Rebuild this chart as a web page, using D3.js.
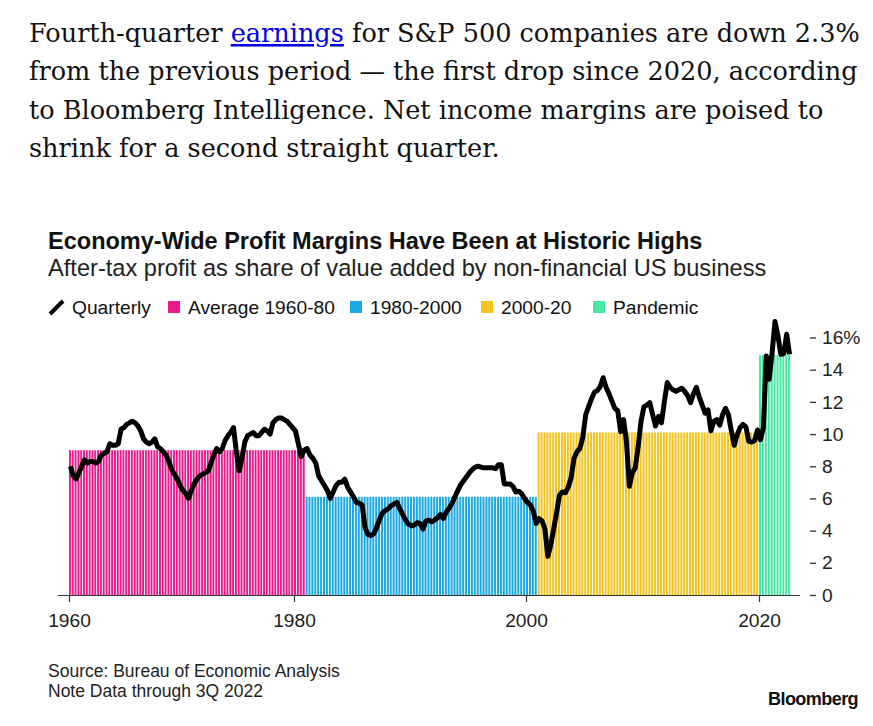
<!DOCTYPE html>
<html>
<head>
<meta charset="utf-8">
<script src="https://cdn.jsdelivr.net/npm/d3@7"></script>
<style>
  html, body { margin: 0; padding: 0; background: #fff; }
  svg { display: block; }
</style>
</head>
<body>
<svg id="chart" width="873" height="726"></svg>
<script>
// ---------------- DATA ----------------
const startYear = 1960;          // first quarter: 1960 Q1
const quarterly = [
  8.0, 7.4, 7.2, 7.6, 8.0, 8.4, 8.2, 8.3, 8.3, 8.2,
  8.3, 8.7, 8.8, 8.9, 9.4, 9.3, 9.3, 9.4, 10.3, 10.4,
  10.6, 10.7, 10.8, 10.7, 10.5, 10.2, 9.7, 9.5, 9.4, 9.5,
  9.7, 9.2, 9.1, 8.9, 8.7, 8.3, 7.8, 7.5, 7.2, 6.8,
  6.5, 6.3, 6.0, 6.5, 6.9, 7.2, 7.4, 7.5, 7.6, 7.7,
  8.2, 8.7, 9.1, 8.9, 9.1, 9.6, 9.9, 10.1, 10.4, 8.9,
  7.7, 8.5, 9.5, 9.9, 10.0, 10.1, 9.9, 9.9, 10.1, 10.3,
  10.2, 10.0, 10.7, 10.9, 11.0, 11.0, 10.9, 10.8, 10.6, 10.4,
  10.2, 9.4, 8.6, 9.0, 9.1, 8.7, 8.5, 8.2, 7.4, 7.1,
  6.8, 6.5, 6.0, 6.4, 6.8, 7.0, 7.0, 7.2, 6.7, 6.4,
  6.1, 5.75, 5.7, 5.6, 4.2, 3.75, 3.7, 3.8, 4.2, 4.7,
  5.1, 5.25, 5.35, 5.55, 5.65, 5.75, 5.35, 5.0, 4.65, 4.4,
  4.3, 4.35, 4.5, 4.45, 4.1, 4.6, 4.65, 4.55, 4.65, 4.8,
  5.0, 4.75, 5.15, 5.4, 5.7, 6.1, 6.5, 6.85, 7.1, 7.35,
  7.6, 7.8, 7.95, 8.0, 7.95, 7.9, 7.9, 7.9, 7.9, 7.85,
  8.1, 8.1, 6.9, 6.9, 6.9, 6.75, 6.4, 6.45, 6.3, 6.0,
  5.75, 5.6, 5.2, 4.45, 4.75, 4.6, 4.1, 2.4, 3.1, 4.1,
  5.1, 6.2, 6.4, 6.35, 6.7, 7.3, 8.5, 8.9, 9.1, 9.8,
  11.2, 11.7, 12.2, 12.6, 12.7, 12.95, 13.5, 12.9, 12.5, 12.05,
  11.6, 11.45, 10.15, 10.9, 9.5, 6.75, 7.6, 7.9, 9.2, 10.8,
  11.7, 11.8, 11.95, 11.2, 10.5, 11.1, 10.7, 12.0, 13.2, 12.9,
  12.75, 12.65, 12.75, 12.85, 12.65, 12.4, 11.95, 12.5, 12.9, 12.3,
  11.8, 11.3, 11.5, 10.2, 10.8, 10.9, 10.55, 11.2, 11.6, 11.2,
  10.2, 9.3, 9.95, 10.4, 10.6, 10.45, 9.55, 9.5, 9.6, 10.25,
  9.65, 10.4, 14.85, 13.4, 15.05, 17.0, 16.1, 14.95, 15.0, 16.2, 14.95
];

const periodNames   = ["Average 1960-80", "1980-2000", "2000-20", "Pandemic"];
const periodStart   = [1960, 1981, 2001, 2020];     // first quarter of each period (Q1)
const periodEnd     = [1981, 2001, 2020, 2022.75];  // end (exclusive)
const periodAverage = [9.0, 6.1, 10.1, 14.9];
const periodColors  = ["#ee1a8a", "#1aa8e6", "#f7c31e", "#46e8a2"];

const xTicks = [1960, 1980, 2000, 2020];
const yTicks = [0, 2, 4, 6, 8, 10, 12, 14, 16];

const paragraph = [
  [["Fourth-quarter ", false], ["earnings", true], [" for S&P 500 companies are down 2.3%", false]],
  [["from the previous period \u2014 the first drop since 2020, according", false]],
  [["to Bloomberg Intelligence. Net income margins are poised to", false]],
  [["shrink for a second straight quarter.", false]]
];
const title = "Economy-Wide Profit Margins Have Been at Historic Highs";
const subtitle = "After-tax profit as share of value added by non-financial US business";
const sourceLines = ["Source: Bureau of Economic Analysis", "Note Data through 3Q 2022"];

// ---------------- DRAW ----------------
const svg = d3.select("#chart");
const sans = "'Liberation Sans', Arial, Helvetica, sans-serif";

// scale a text's font-size so that it spans the target width (layout matching)
function fitSize(sel, target) {
  const base = +sel.attr("font-size");
  const len = sel.node().getComputedTextLength();
  return base * target / len;
}

// paragraph
const pText = svg.append("g").attr("font-family", "'DejaVu Serif', serif")
  .attr("font-size", 24).attr("fill", "#111");
const pLines = paragraph.map((line, i) => {
  const t = pText.append("text").attr("x", 29).attr("y", 42 + i * 38.3).attr("font-size", 24);
  line.forEach(([s, link]) => {
    const ts = t.append("tspan").text(s);
    if (link) ts.attr("fill", "#0000ee").attr("text-decoration", "underline");
  });
  return t;
});
const pSize = fitSize(pLines[0], 831);
pLines.forEach(t => t.attr("font-size", pSize));

// titles
const tt = svg.append("text").attr("x", 48).attr("y", 249).attr("font-family", sans)
  .attr("font-weight", "bold").attr("font-size", 20).attr("fill", "#111").text(title);
tt.attr("font-size", fitSize(tt, 655));
const st = svg.append("text").attr("x", 48).attr("y", 276).attr("font-family", sans)
  .attr("font-size", 20).attr("fill", "#222").text(subtitle);
st.attr("font-size", fitSize(st, 719));

// scales
const x = d3.scaleLinear().domain(xTicks).range([69, 294, 526, 759]);
const y = d3.scaleLinear().domain([0, 16]).range([595, 337.5]);

const quarters = quarterly.map((v, i) => ({ t: startYear + i / 4, v }));

function periodOf(t) {
  for (let k = 0; k < periodStart.length; k++) if (t >= periodStart[k] && t < periodEnd[k]) return k;
  return periodStart.length - 1;
}

// striped bars (one per quarter)
svg.append("g").selectAll("rect").data(quarters).join("rect")
  .attr("x", d => x(d.t))
  .attr("width", d => Math.max(0.5, x(d.t + 0.25) - x(d.t) - 0.9))
  .attr("y", d => y(periodAverage[periodOf(d.t)]))
  .attr("height", d => y(0) - y(periodAverage[periodOf(d.t)]))
  .attr("fill", d => periodColors[periodOf(d.t)]);

const labelSize = 19.2;

// x axis
const xAxis = svg.append("g").attr("transform", `translate(0,${y(0)})`)
  .call(d3.axisBottom(x).tickValues(xTicks).tickFormat(d3.format("d")).tickSize(7).tickPadding(11));
xAxis.select(".domain").attr("d", `M58,0.5H800`).attr("stroke", "#333").attr("stroke-width", 1.2);
xAxis.selectAll(".tick line").attr("stroke", "#333").attr("stroke-width", 1.2);
xAxis.selectAll(".tick text").attr("font-family", sans).attr("font-size", labelSize).attr("fill", "#222");

// y axis on right
const yAxis = svg.append("g").attr("transform", "translate(810,0)")
  .call(d3.axisRight(y).tickValues(yTicks).tickFormat(d => d === 16 ? "16%" : d).tickSize(6).tickPadding(6));
yAxis.select(".domain").remove();
yAxis.selectAll(".tick line").attr("stroke", "#333").attr("stroke-width", 1.3);
yAxis.selectAll(".tick text").attr("font-family", sans).attr("font-size", labelSize).attr("fill", "#222");

// line
const line = d3.line().x(d => x(d.t + 0.125)).y(d => y(d.v)).curve(d3.curveLinear);
svg.append("path").datum(quarters).attr("d", line)
  .attr("fill", "none").attr("stroke", "#000").attr("stroke-width", 5)
  .attr("stroke-linejoin", "round").attr("stroke-linecap", "butt");

// legend
const lg = svg.append("g").attr("font-family", sans).attr("font-size", labelSize).attr("fill", "#111");
lg.append("line").attr("x1", 50).attr("y1", 314).attr("x2", 63).attr("y2", 301)
  .attr("stroke", "#000").attr("stroke-width", 4);
lg.append("text").attr("x", 72).attr("y", 314).text("Quarterly");
const swatchX = [168, 350, 481, 593];
periodNames.forEach((n, i) => {
  lg.append("rect").attr("x", swatchX[i]).attr("y", 301).attr("width", 12).attr("height", 12)
    .attr("fill", periodColors[i]);
  lg.append("text").attr("x", swatchX[i] + 20).attr("y", 314).text(n);
});

// source
const srcSel = sourceLines.map((s, i) => svg.append("text").attr("x", 48).attr("y", 677 + i * 20)
  .attr("font-family", sans).attr("font-size", 16).attr("fill", "#222").text(s));
const srcSize = fitSize(srcSel[0], 292);
srcSel.forEach(s => s.attr("font-size", srcSize));

const bb = svg.append("text").attr("x", 858).attr("y", 705).attr("text-anchor", "end")
  .attr("font-family", sans).attr("font-weight", "bold").attr("font-size", 18)
  .attr("letter-spacing", -0.6).attr("fill", "#111").text("Bloomberg");
bb.attr("font-size", fitSize(bb, 90));
</script>
</body>
</html>
